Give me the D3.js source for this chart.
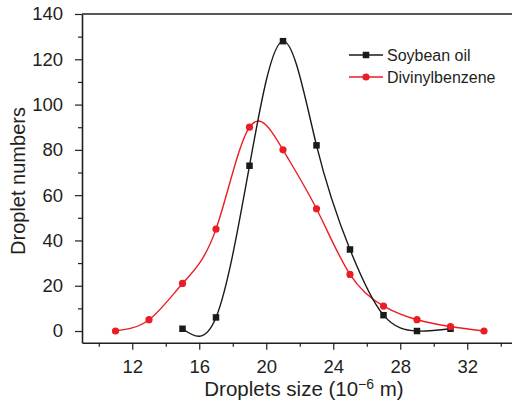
<!DOCTYPE html>
<html>
<head>
<meta charset="utf-8">
<script src="https://cdn.jsdelivr.net/npm/d3@7"></script>
<style>
  html, body { margin: 0; padding: 0; background: #fff; }
  svg { display: block; }
  text { font-family: "Liberation Sans", Arial, Helvetica, sans-serif; fill: #231f20; }
</style>
</head>
<body>
<svg id="chart" width="512" height="406"></svg>
<script>
// Droplet size distributions (size in 10^-6 m, count of droplets)
const soySizes = [15, 17, 19, 21, 23, 25, 27, 29, 31];
const soyCounts = [1, 6, 73, 128, 82, 36, 7, 0, 1];
const dvbSizes = [11, 13, 15, 17, 19, 21, 23, 25, 27, 29, 31, 33];
const dvbCounts = [0, 5, 21, 45, 90, 80, 54, 25, 11, 5, 2, 0];

const yMajorTicks = [0, 20, 40, 60, 80, 100, 120, 140];
const yMinorTicks = [10, 30, 50, 70, 90, 110, 130];
const xMajorTicks = [12, 16, 20, 24, 28, 32];
const xMinorTicks = [10, 14, 18, 22, 26, 30, 34];

const seriesNames = ["Soybean oil", "Divinylbenzene"];
const seriesColors = ["#1a1a1a", "#ec1c24"];

const svg = d3.select("#chart");

const x = d3.scaleLinear().domain([9, 36]).range([82, 534.25]);
const y = d3.scaleLinear().domain([-5.2, 140]).range([342.8, 14]);

const plotLeft = x(9), plotBottom = y(-5.2), plotTop = y(140);

// minor ticks (no labels)
svg.append("g")
  .attr("transform", `translate(${plotLeft},0)`)
  .call(d3.axisLeft(y).tickValues(yMinorTicks).tickSize(4).tickFormat(""))
  .call(g => g.select(".domain").remove())
  .call(g => g.selectAll("line").attr("stroke", "#231f20").attr("stroke-width", 1.2));
svg.append("g")
  .attr("transform", `translate(0,${plotBottom})`)
  .call(d3.axisBottom(x).tickValues(xMinorTicks).tickSize(4).tickFormat(""))
  .call(g => g.select(".domain").remove())
  .call(g => g.selectAll("line").attr("stroke", "#231f20").attr("stroke-width", 1.2));

// major axes
const yAxis = svg.append("g")
  .attr("transform", `translate(${plotLeft},0)`)
  .call(d3.axisLeft(y).tickValues(yMajorTicks).tickSize(7).tickPadding(12).tickSizeOuter(0));
const xAxis = svg.append("g")
  .attr("transform", `translate(0,${plotBottom})`)
  .call(d3.axisBottom(x).tickValues(xMajorTicks).tickSize(7).tickPadding(10).tickSizeOuter(0));

[yAxis, xAxis].forEach(g => {
  g.select(".domain").attr("stroke", "#231f20").attr("stroke-width", 1.6);
  g.selectAll(".tick line").attr("stroke", "#231f20").attr("stroke-width", 1.2);
  g.selectAll(".tick text")
    .style("font-family", '"Liberation Sans", Arial, sans-serif')
    .style("font-size", "18.5px")
    .attr("fill", "#231f20");
});

// top frame line
svg.append("line")
  .attr("x1", plotLeft).attr("x2", 512)
  .attr("y1", plotTop).attr("y2", plotTop)
  .attr("stroke", "#231f20").attr("stroke-width", 1.6);

// axis titles
svg.append("text")
  .attr("transform", `translate(25,181) rotate(-90)`)
  .attr("text-anchor", "middle")
  .style("font-size", "20px")
  .text("Droplet numbers");

const xt = svg.append("text")
  .attr("x", 304).attr("y", 396)
  .attr("text-anchor", "middle")
  .style("font-size", "20.5px");
xt.append("tspan").text("Droplets size (10");
xt.append("tspan").attr("dy", -7).style("font-size", "14px").text("\u22126");
xt.append("tspan").attr("dy", 7).text(" m)");

// curves
const line = d3.line()
  .x(d => x(d[0]))
  .y(d => y(d[1]))
  .curve(d3.curveNatural);

const soy = soySizes.map((s, i) => [s, soyCounts[i]]);
const dvb = dvbSizes.map((s, i) => [s, dvbCounts[i]]);

svg.append("path").datum(dvb)
  .attr("d", line).attr("fill", "none")
  .attr("stroke", seriesColors[1]).attr("stroke-width", 1.4);
svg.append("path").datum(soy)
  .attr("d", line).attr("fill", "none")
  .attr("stroke", seriesColors[0]).attr("stroke-width", 1.4);

const sq = 6.5;
svg.append("g").selectAll("rect").data(soy).join("rect")
  .attr("x", d => x(d[0]) - sq / 2)
  .attr("y", d => y(d[1]) - sq / 2)
  .attr("width", sq).attr("height", sq)
  .attr("fill", seriesColors[0]);
svg.append("g").selectAll("circle").data(dvb).join("circle")
  .attr("cx", d => x(d[0]))
  .attr("cy", d => y(d[1]))
  .attr("r", 3.6)
  .attr("fill", seriesColors[1]);

// legend
const legend = svg.append("g");
seriesNames.forEach((name, i) => {
  const ly = 55 + i * 22;
  legend.append("line")
    .attr("x1", 349).attr("x2", 383)
    .attr("y1", ly).attr("y2", ly)
    .attr("stroke", seriesColors[i]).attr("stroke-width", 1.4);
  if (i === 0) {
    legend.append("rect")
      .attr("x", 366 - sq / 2).attr("y", ly - sq / 2)
      .attr("width", sq).attr("height", sq)
      .attr("fill", seriesColors[i]);
  } else {
    legend.append("circle")
      .attr("cx", 366).attr("cy", ly).attr("r", 3.6)
      .attr("fill", seriesColors[i]);
  }
  legend.append("text")
    .attr("x", 387).attr("y", ly).attr("dy", "0.36em")
    .style("font-size", "16px")
    .text(name);
});
</script>
</body>
</html>
